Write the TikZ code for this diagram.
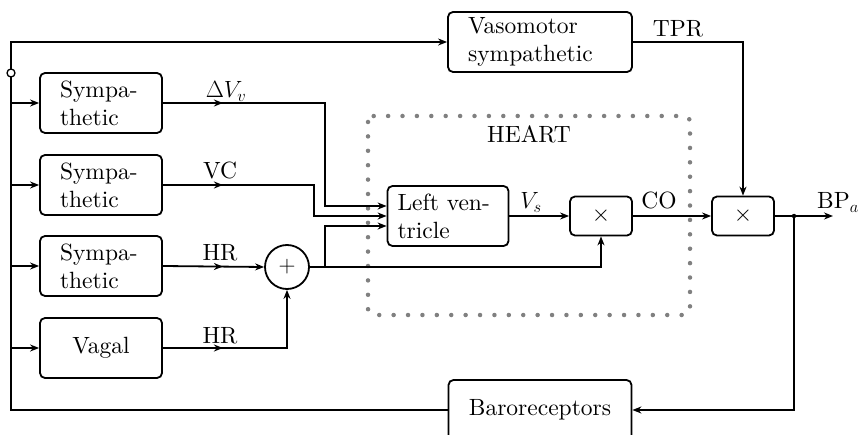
\RequirePackage{fix-cm}
\documentclass[tikz,border=0pt]{standalone}
\usepackage{fontspec}
\setmainfont{lmroman10-regular}[Extension=.otf, ItalicFont=lmroman10-italic, BoldFont=lmroman10-bold]
\usetikzlibrary{arrows.meta,decorations.markings}
\begin{document}
\begin{tikzpicture}[x=1pt,y=-1pt,
  font=\fontsize{23.5pt}{28pt}\selectfont,
  line width=1.8pt,
  >={Stealth[length=9pt,width=7pt]},
  blk/.style={draw, rounded corners=5pt, inner sep=0pt, align=left},
  sbox/.style={blk, minimum width=122pt, minimum height=60pt},
  tbox/.style={sbox, text width=82pt, inner xsep=20pt},
  mbox/.style={blk, minimum width=62pt, minimum height=39pt},
  lbl/.style={anchor=base, inner sep=0pt},
  midarr/.style={postaction={decorate},
    decoration={markings, mark=at position 60pt with {\arrow{>}}}},
  heartbox/.style={draw=gray, line width=4.5pt, line cap=round,
    dash pattern=on 0pt off 14.4pt, rounded corners=6pt}]
\useasboundingbox (0,0) rectangle (858,435);

% blocks
\node[blk, minimum width=184pt, minimum height=60pt, text width=144pt, inner xsep=20pt] (vaso) at (540,42) {Vasomotor\\sympathetic};
\node[tbox] (s1) at (101,103) {Sympa-\\thetic};
\node[tbox] (s2) at (101,185) {Sympa-\\thetic};
\node[tbox] (s3) at (101,266) {Sympa-\\thetic};
\node[sbox] (vagal) at (101,348) {Vagal};
\node[draw, circle, inner sep=0pt, minimum size=44pt] (sum) at (287,267) {$+$};
\node[blk, minimum width=121pt, minimum height=60pt, text width=101pt, inner xsep=8pt, xshift=-2pt] (lv) at (450,216) {\makebox[101pt][s]{Left ven-}\\tricle};
\node[mbox] (m1) at (601,216) {$\times$};
\node[mbox] (m2) at (743,216) {$\times$};
\node[blk, minimum width=183pt, minimum height=60pt] (baro) at (540,410) {Baroreceptors};

% heart region
\draw[heartbox] (368,116) rectangle (690,315);
\node[lbl] (heart) at (529,143) {HEART};

% coordinates
\coordinate (tl) at (11,42);
\coordinate (bl) at (11,410);
\coordinate (jn) at (794,216);
\coordinate (out) at (833,216);
\coordinate (br) at (325,267);

% main feedback loop
\draw[->] (baro.west) -- (bl) -- (tl) -- (vaso.west);
\draw[->] (s1.west -| tl) -- (s1.west);
\draw[->] (s2.west -| tl) -- (s2.west);
\draw[->] (s3.west -| tl) -- (s3.west);
\draw[->] (vagal.west -| tl) -- (vagal.west);

% sympathetic outputs
\draw[->,midarr] (s1.east) -- (325,103) -- (325,206) -- (lv.west |- 0,206);
\draw[->,midarr] (s2.east) -- (314,185) -- (314,216) -- (lv.west);
\draw[->,midarr] (s3.east) -- (sum.west);
\draw[->,midarr] (vagal.east) -- (vagal.east -| sum) -- (sum.south);

% sum outputs
\draw[->] (sum.east) -- (sum.east -| m1) -- (m1.south);
\draw[->] (br) -- (325,226) -- (lv.west |- 0,226);

% heart outputs
\draw[->] (lv.east) -- (m1.west);
\draw[->] (m1.east) -- (m2.west);
\draw[->] (vaso.east) -- (vaso.east -| m2) -- (m2.north);
\draw[->] (m2.east) -- (out);
\draw[->] (jn) -- (jn |- baro.east) -- (baro.east);
\fill (jn) circle (2.2pt);

% tap circle
\node[circle, draw, fill=white, inner sep=0pt, minimum size=8pt, line width=1.3pt] (tap) at (11,73) {};

% labels
\node[lbl] (l1) at (226,98) {$\Delta V_v$};
\node[lbl] (l2) at (220,179) {VC};
\node[lbl] (l3) at (220,261) {HR};
\node[lbl] (l4) at (220,343) {HR};
\node[lbl] (l5) at (531,209) {$V_s$};
\node[lbl] (l6) at (659,209) {CO};
\node[lbl] (l7) at (678,37) {TPR};
\node[lbl] (l8) at (838,209) {BP$_a$};
\end{tikzpicture}
\end{document}
